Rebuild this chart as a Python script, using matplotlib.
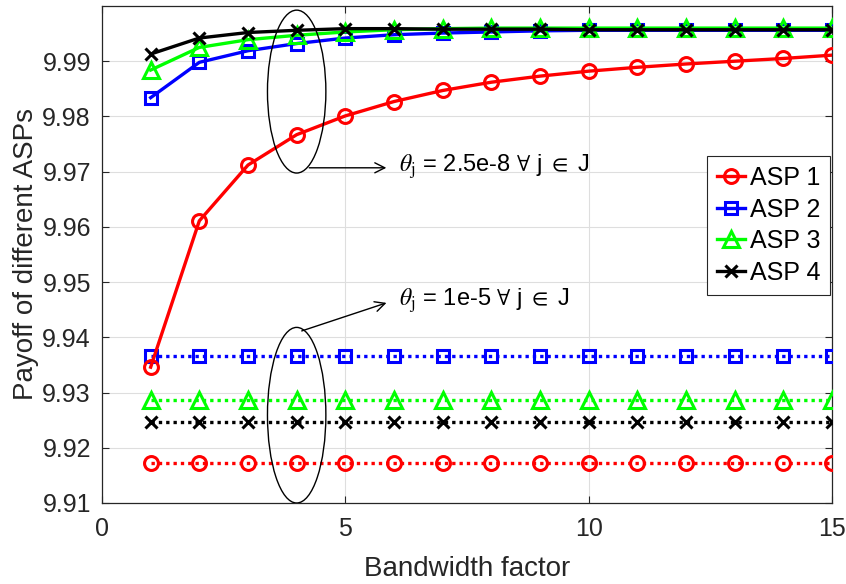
import numpy as np
import matplotlib
matplotlib.use('Agg')
import matplotlib.pyplot as plt
from matplotlib.patches import Ellipse
import matplotlib.ticker as ticker

plt.rcParams['font.family'] = ['Liberation Sans', 'DejaVu Sans']
plt.rcParams['mathtext.fontset'] = 'stix'

# ── data ──
bandwidth = [1, 2, 3, 4, 5, 6, 7, 8, 9, 10, 11, 12, 13, 14, 15]

# theta_j = 2.5e-8 (solid)
asp1_low_theta = [9.9346, 9.9611, 9.9712, 9.9767, 9.9801, 9.9827, 9.9847, 9.9862,
                  9.9873, 9.9882, 9.9889, 9.9895, 9.9900, 9.9905, 9.9911]
asp2_low_theta = [9.9834, 9.9898, 9.9919, 9.9932, 9.9942, 9.9948, 9.9951, 9.9953,
                  9.9955, 9.9956, 9.9956, 9.9956, 9.9956, 9.9956, 9.9956]
asp3_low_theta = [9.9884, 9.9925, 9.9939, 9.9947, 9.9953, 9.9957, 9.9959, 9.9960,
                  9.9960, 9.9960, 9.9960, 9.9960, 9.9960, 9.9960, 9.9960]
asp4_low_theta = [9.9913, 9.9942, 9.9952, 9.9956, 9.9959, 9.9959, 9.9958, 9.9958,
                  9.9958, 9.9957, 9.9957, 9.9957, 9.9957, 9.9957, 9.9957]

# theta_j = 1e-5 (dotted, flat)
asp1_high_theta = [9.9173] * 15
asp2_high_theta = [9.9367] * 15
asp3_high_theta = [9.9287] * 15
asp4_high_theta = [9.9246] * 15

labels = ['ASP 1', 'ASP 2', 'ASP 3', 'ASP 4']
colors = ['#FF0000', '#0000FF', '#00FF00', '#000000']
markers = ['o', 's', '^', 'x']
msizes = [10, 8.5, 11, 8]

# ── plot ──
fig, ax = plt.subplots(figsize=(8.46, 5.84), dpi=100, facecolor='white')
fig.subplots_adjust(left=102/846, right=832/846, top=1-6/584, bottom=1-503/584)

solid = [asp1_low_theta, asp2_low_theta, asp3_low_theta, asp4_low_theta]
dotted = [asp1_high_theta, asp2_high_theta, asp3_high_theta, asp4_high_theta]

for ys, c, m, ms, lab in zip(solid, colors, markers, msizes, labels):
    ax.plot(bandwidth, ys, color=c, marker=m, markersize=ms, markerfacecolor='none',
            markeredgewidth=2.2, linewidth=2.4, label=lab, zorder=4)
for ys, c, m, ms in zip(dotted, colors, markers, msizes):
    ax.plot(bandwidth, ys, color=c, marker=m, markersize=ms, markerfacecolor='none',
            markeredgewidth=2.2, linewidth=2.4, linestyle=(0, (1, 1.2)), zorder=3)

# ellipses + annotations
ax.add_patch(Ellipse((4.0, 9.9845), 1.2, 0.0295, fill=False, edgecolor='black',
                     linewidth=1.0, zorder=5))
ax.add_patch(Ellipse((4.0, 9.9259), 1.2, 0.0318, fill=False, edgecolor='black',
                     linewidth=1.0, zorder=5))

ax.annotate('', xy=(5.9, 9.9707), xytext=(4.2, 9.9707),
            arrowprops=dict(arrowstyle='->', color='black', lw=1.0, mutation_scale=18))
ax.annotate('', xy=(5.9, 9.9464), xytext=(4.05, 9.9410),
            arrowprops=dict(arrowstyle='->', color='black', lw=1.0, mutation_scale=18))

ax.text(6.1, 9.9710, r'$\theta_{\mathrm{j}}$' + ' = 2.5e-8 ' + r'$\forall$' + ' j ' + r'$\in$' + ' J',
        fontsize=17, va='center', ha='left')
ax.text(6.1, 9.9467, r'$\theta_{\mathrm{j}}$' + ' = 1e-5 ' + r'$\forall$' + ' j ' + r'$\in$' + ' J',
        fontsize=17, va='center', ha='left')

# axes
ax.set_xlim(0, 15)
ax.set_ylim(9.91, 10.0)
ax.set_xticks([0, 5, 10, 15])
ax.set_yticks(np.round(np.arange(9.91, 9.995, 0.01), 2))
ax.yaxis.set_major_formatter(ticker.FormatStrFormatter('%.2f'))
ax.tick_params(axis='both', direction='in', labelsize=18, colors='#262626',
               top=True, right=True, length=5, width=0.8)
ax.tick_params(axis='x', pad=10)
ax.tick_params(axis='y', pad=8)
ax.set_xlabel('Bandwidth factor', fontsize=20, color='#262626', labelpad=11)
ax.set_ylabel('Payoff of different ASPs', fontsize=20, color='#262626', labelpad=2)
ax.grid(True, color='#DEDEDE', linewidth=0.8)
ax.set_axisbelow(True)
for sp in ax.spines.values():
    sp.set_color('#262626')
    sp.set_linewidth(0.9)

leg = ax.legend(loc='upper right', bbox_to_anchor=(0.9975, 0.698), fontsize=18,
                frameon=True, fancybox=False, edgecolor='#262626', framealpha=1,
                handlelength=1.1, handletextpad=0.2, borderpad=0.4, labelspacing=0.3,
                borderaxespad=0)
leg.get_frame().set_linewidth(0.8)

fig.savefig('out.png', dpi=100, facecolor='white')
